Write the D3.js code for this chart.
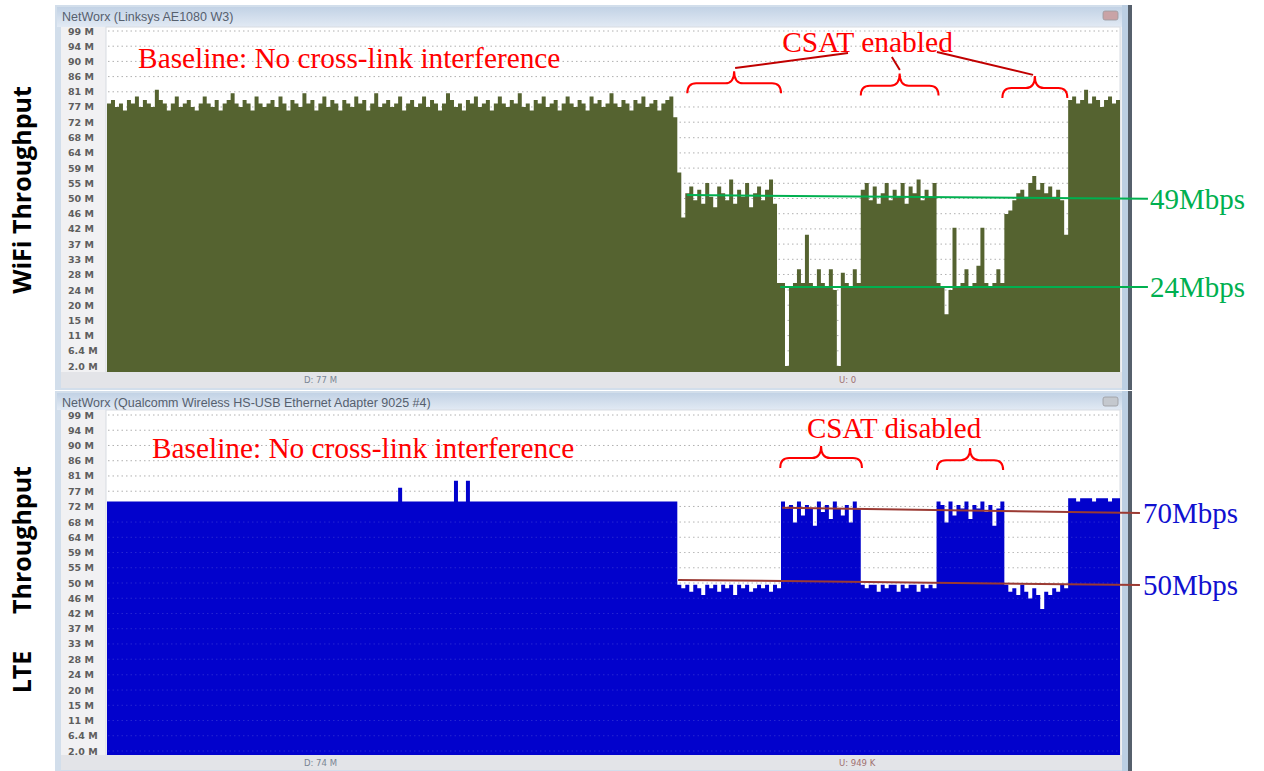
<!DOCTYPE html>
<html>
<head>
<meta charset="utf-8">
<script src="https://cdn.jsdelivr.net/npm/d3@7"></script>
<style>
  body { margin: 0; background: #fff; }
  svg { display: block; }
</style>
</head>
<body>
<div id="chart"></div>
<script>
// Y tick labels shown by NetWorx (same on both panels)
const tickLabels = ["99 M","94 M","90 M","86 M","81 M","77 M","72 M","68 M","64 M","59 M","55 M","50 M",
                    "46 M","42 M","37 M","33 M","28 M","24 M","20 M","15 M","11 M","6.4 M","2.0 M"];
const tickValues = [99, 94.6, 90.2, 85.8, 81.4, 77, 72.6, 68.1, 63.7, 59.3, 54.9, 50.5,
                    46.1, 41.7, 37.3, 32.9, 28.5, 24, 19.6, 15.2, 10.8, 6.4, 2];

// WiFi throughput samples (Mbps)
const wifiThroughput = [
  78,79,77,78,76,79,78,80,77,79, 78,77,82,79,78,76,78,80,77,78,
  79,77,76,78,80,78,77,79,76,78, 79,81,78,77,79,78,76,80,78,77,
  78,79,77,80,78,76,79,78,77,81, 78,79,76,78,80,77,79,78,76,79,
  78,77,80,78,79,76,78,81,77,78, 79,77,78,80,76,78,79,77,78,80,
  77,79,78,76,78,81,79,77,78,76, 79,78,80,77,78,79,76,78,80,78,
  77,79,78,81,77,78,76,79,78,80, 77,78,79,76,78,80,78,77,79,78,
  76,80,78,79,77,78,81,78,77,79, 78,76,79,78,80,77,78,79,76,78,
  79,80,74,58,45,
  52,54,50,53,49,55,51,48,54,52,50,56,49,53,51,55,48,52,54,50,53,56,49,
  26,26,2,25,26,30,26,40,26,25,30,26,25,30,24,2,29,26,25,30,26,
  53,55,50,54,49,52,55,50,53,51,55,49,54,52,56,50,53,51,55,26,
  25,17,24,42,25,26,30,25,26,31,42,26,25,26,30,26,
  46,47,50,52,53,51,55,57,53,55,52,54,51,53,50,40,
  79,80,78,79,82,78,80,79,77,79,80,78,79
];

// LTE throughput samples (Mbps)
const lteThroughput = [
  74,74,74,74,74,74,74,74,74,74, 74,74,74,74,74,74,74,74,74,74,
  74,74,74,74,74,74,74,74,74,74, 74,74,74,74,74,74,74,74,74,74,
  74,74,74,74,74,74,74,74,74,74, 74,74,74,74,74,74,74,74,74,74,
  74,74,74,74,74,74,74,74,74,74, 74,74,74,78,74,74,74,74,74,74,
  74,74,74,74,74,74,74,80,74,74, 80,74,74,74,74,74,74,74,74,74,
  74,74,74,74,74,74,74,74,74,74, 74,74,74,74,74,74,74,74,74,74,
  74,74,74,74,74,74,74,74,74,74, 74,74,74,74,74,74,74,74,74,74,
  74,74,74,
  50,49,50,48,50,49,47,50,49,50,48,50,49,50,47,50,49,50,48,49,50,49,50,48,50,49,
  74,72,73,68,74,70,73,72,67,74,71,73,69,74,72,70,73,68,74,72,
  50,49,50,50,48,50,49,50,50,48,50,49,50,50,48,50,49,50,49,
  74,73,68,74,70,73,72,74,69,73,72,74,71,73,67,72,74,
  50,48,49,47,50,48,46,49,47,43,48,47,49,48,50,49,
  75,75,74,75,75,75,74,75,75,75,74,75,75
];

const windowTitles = ["NetWorx (Linksys AE1080 W3)", "NetWorx (Qualcomm Wireless HS-USB Ethernet Adapter 9025 #4)"];
const footerDown = ["D: 77 M", "D: 74 M"];
const footerUp = ["U: 0", "U: 949 K"];
const panelLabels = [["WiFi Throughput"], ["Throughput", "LTE"]];

// annotations in data units: [sample index, Mbps]
const wifiBraces = [[145.5, 169, 81], [189, 208.5, 80.3], [224.5, 240.8, 79.6]];
const lteBraces = [[168.8, 189.3, 83.7], [208.1, 224.7, 83.1]];
const wifiConnectors = [[[157.5, 88.3], [185.8, 92.6]], [[196.8, 91.5], [198.8, 87.7]], [[208.1, 92.9], [232.2, 86.3]]];
const wifiRates = [{label: "49Mbps", from: [145.4, 51.5], to: [261, 50.4]}, {label: "24Mbps", from: [168.8, 24.9], to: [261, 24.9]}];
const lteRates = [{label: "70Mbps", from: [169.3, 72.2], to: [259, 70.7]}, {label: "50Mbps", from: [143.2, 51.4], to: [259, 49.9]}];

const width = 1264, height = 771;
const svg = d3.select("#chart").append("svg")
    .attr("width", width)
    .attr("height", height);

const defs = svg.append("defs");
const grad = defs.append("linearGradient").attr("id", "titleGrad")
    .attr("x1", 0).attr("x2", 0).attr("y1", 0).attr("y2", 1);
grad.append("stop").attr("offset", "0%").attr("stop-color", "#c2d2e5");
grad.append("stop").attr("offset", "100%").attr("stop-color", "#e2eaf4");

function drawPanel(p) {
    const g = svg.append("g");
    const plotLeft = 106, plotRight = 1120;

    // window chrome
    g.append("rect").attr("x", 55).attr("y", p.winTop).attr("width", 1077).attr("height", p.winBottom - p.winTop)
        .attr("fill", "#d2deeb");
    g.append("rect").attr("x", 57).attr("y", p.winTop + 2).attr("width", 1071).attr("height", p.plotTop - p.winTop - 2)
        .attr("fill", "url(#titleGrad)");
    g.append("text").attr("x", 62).attr("y", p.winTop + 16)
        .attr("font-family", "Liberation Sans, Arial, sans-serif").attr("font-size", "12.5px").attr("fill", "#56606e")
        .text(p.title);
    g.append("rect").attr("x", 1103).attr("y", p.winTop + 6).attr("width", 15).attr("height", 9).attr("rx", 2)
        .attr("fill", p.closeFill).attr("stroke", "#9a9aa0").attr("stroke-width", 0.8);
    g.append("rect").attr("x", 61).attr("y", p.plotTop).attr("width", 1061).attr("height", p.footBottom - p.plotTop)
        .attr("fill", "#f1f1f3");
    g.append("rect").attr("x", plotLeft).attr("y", p.plotTop).attr("width", plotRight - plotLeft).attr("height", p.plotBottom - p.plotTop)
        .attr("fill", "#ffffff").attr("stroke", "#d8dce2");
    g.append("rect").attr("x", 61).attr("y", p.plotBottom).attr("width", 1061).attr("height", p.footBottom - p.plotBottom)
        .attr("fill", "#e3e4e8");
    g.append("rect").attr("x", 1122).attr("y", p.winTop).attr("width", 6).attr("height", p.winBottom - p.winTop)
        .attr("fill", "#bccfe3");
    g.append("rect").attr("x", 1128).attr("y", p.winTop).attr("width", 4).attr("height", p.winBottom - p.winTop)
        .attr("fill", "#56606c");

    const x = d3.scaleLinear().domain([0, p.data.length]).range([plotLeft + 1, plotRight]);
    const y = d3.scaleLinear().domain([2, 99]).range(p.yRange);

    // dotted grid
    g.selectAll(".grid").data(tickValues).join("line")
        .attr("x1", plotLeft + 2).attr("x2", plotRight - 2)
        .attr("y1", d => y(d)).attr("y2", d => y(d))
        .attr("stroke", "#b0b0b0").attr("stroke-width", 1).attr("stroke-dasharray", "1.5,3");

    // throughput area
    const pts = p.data.map((v, i) => ({i, v}));
    pts.push({i: p.data.length, v: p.data[p.data.length - 1]});
    const area = d3.area()
        .x(d => x(d.i))
        .y0(p.plotBottom)
        .y1(d => y(d.v))
        .curve(d3.curveStepAfter);
    g.append("path").datum(pts).attr("d", area).attr("fill", p.color);

    if (p.gridOver) {
        g.selectAll(".gridOver").data(tickValues.filter(t => t < 72)).join("line")
            .attr("x1", plotLeft + 2).attr("x2", plotRight - 2)
            .attr("y1", d => y(d)).attr("y2", d => y(d))
            .attr("stroke", "#ffffff").attr("stroke-opacity", 0.15).attr("stroke-dasharray", "1.5,3");
    }

    // y tick labels
    g.selectAll(".tick").data(tickLabels).join("text")
        .attr("x", 68).attr("y", (d, i) => y(tickValues[i]) + 3.5)
        .attr("font-family", "DejaVu Sans, sans-serif").attr("font-size", "9.5px").attr("font-weight", "bold")
        .attr("fill", "#5e5e5e")
        .text(d => d);

    // footer
    g.append("text").attr("x", 304).attr("y", p.plotBottom + 11)
        .attr("font-family", "DejaVu Sans, sans-serif").attr("font-size", "8.5px").attr("fill", "#7a8494")
        .text(p.down);
    g.append("text").attr("x", 839).attr("y", p.plotBottom + 11)
        .attr("font-family", "DejaVu Sans, sans-serif").attr("font-size", "8.5px").attr("fill", "#a07070")
        .text(p.up);

    return {g, x, y};
}

const serif = "Liberation Serif, Times New Roman, serif";

function brace(x1, x2, yb, h) {
    const xm = (x1 + x2) / 2, ym = yb - h * 0.45, r = 9;
    return `M${x1},${yb} Q${x1},${ym} ${x1 + r},${ym} L${xm - r},${ym} Q${xm},${ym} ${xm},${yb - h}` +
           ` Q${xm},${ym} ${xm + r},${ym} L${x2 - r},${ym} Q${x2},${ym} ${x2},${yb}`;
}

function annotate(panel, braces, rates, rateColor, lineColor, labelX) {
    const {g, x, y} = panel;
    braces.forEach(b => {
        g.append("path").attr("d", brace(x(b[0]), x(b[1]), y(b[2]), 22))
            .attr("fill", "none").attr("stroke", "#ff0000").attr("stroke-width", 2);
    });
    rates.forEach(r => {
        g.append("line")
            .attr("x1", x(r.from[0])).attr("y1", y(r.from[1]))
            .attr("x2", x(r.to[0])).attr("y2", y(r.to[1]))
            .attr("stroke", lineColor).attr("stroke-width", 2);
        g.append("text").attr("x", x(r.to[0]) + labelX).attr("y", y(r.to[1]) + 10)
            .attr("font-family", serif).attr("font-size", "29px").attr("fill", rateColor)
            .text(r.label);
    });
}

const wifiPanel = drawPanel({
    winTop: 5, plotTop: 27, plotBottom: 372, footBottom: 388, winBottom: 390,
    yRange: [366, 31], data: wifiThroughput, color: "#556330",
    title: windowTitles[0], down: footerDown[0], up: footerUp[0], closeFill: "#c9a3a6", gridOver: false
});
const ltePanel = drawPanel({
    winTop: 391, plotTop: 410, plotBottom: 755, footBottom: 770, winBottom: 771,
    yRange: [751, 415], data: lteThroughput, color: "#0202cc",
    title: windowTitles[1], down: footerDown[1], up: footerUp[1], closeFill: "#c4c8ce", gridOver: true
});

// WiFi annotations
wifiPanel.g.append("text").attr("x", wifiPanel.x(7.8)).attr("y", wifiPanel.y(88.3))
    .attr("font-family", serif).attr("font-size", "29.3px").attr("fill", "#ff0000")
    .text("Baseline: No cross-link interference");
wifiPanel.g.append("text").attr("x", wifiPanel.x(169.3)).attr("y", wifiPanel.y(92.8))
    .attr("font-family", serif).attr("font-size", "29.5px").attr("fill", "#ff0000")
    .text("CSAT enabled");
wifiConnectors.forEach(c => {
    wifiPanel.g.append("line")
        .attr("x1", wifiPanel.x(c[0][0])).attr("y1", wifiPanel.y(c[0][1]))
        .attr("x2", wifiPanel.x(c[1][0])).attr("y2", wifiPanel.y(c[1][1]))
        .attr("stroke", "#c00000").attr("stroke-width", 2);
});
annotate(wifiPanel, wifiBraces, wifiRates, "#00b050", "#00b050", 2);

// LTE annotations
ltePanel.g.append("text").attr("x", ltePanel.x(11.3)).attr("y", ltePanel.y(86.6))
    .attr("font-family", serif).attr("font-size", "29.3px").attr("fill", "#ff0000")
    .text("Baseline: No cross-link interference");
ltePanel.g.append("text").attr("x", ltePanel.x(175.5)).attr("y", ltePanel.y(92.4))
    .attr("font-family", serif).attr("font-size", "29px").attr("fill", "#ff0000")
    .text("CSAT disabled");
annotate(ltePanel, lteBraces, lteRates, "#1010d0", "#9b3a33", 3);

// rotated panel labels on the left
const labelFont = "Open Sans, Lato, sans-serif";
svg.append("text").attr("transform", "translate(31,190) rotate(-90)")
    .attr("text-anchor", "middle").attr("font-family", labelFont).attr("font-weight", "bold").attr("font-size", "25px")
    .text(panelLabels[0][0]);
svg.append("text").attr("transform", "translate(31,540) rotate(-90)")
    .attr("text-anchor", "middle").attr("font-family", labelFont).attr("font-weight", "bold").attr("font-size", "25px")
    .text(panelLabels[1][0]);
svg.append("text").attr("transform", "translate(31,672) rotate(-90)")
    .attr("text-anchor", "middle").attr("font-family", labelFont).attr("font-weight", "bold").attr("font-size", "25px")
    .text(panelLabels[1][1]);
</script>
</body>
</html>
